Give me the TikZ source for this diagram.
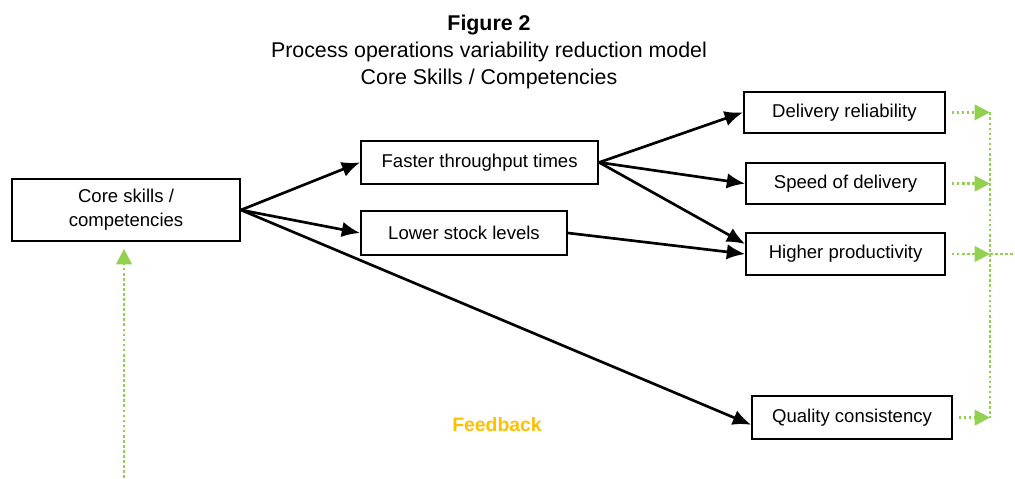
\documentclass[tikz,border=0pt]{standalone}
\usepackage{fontspec}
\setmainfont{Liberation Sans}
\usepackage{tikz}
\usetikzlibrary{arrows.meta,positioning,calc}
\definecolor{fbGreen}{RGB}{146,208,80}
\definecolor{fbGold}{RGB}{255,192,0}

\begin{document}
\begin{tikzpicture}[>={Latex[length=13pt,width=11pt]}, font=\fontsize{13.2}{17}\selectfont]
\tikzstyle{box}=[draw=black, line width=1.3pt, align=center, inner sep=0pt, minimum height=1.05cm]
\tikzstyle{lnk}=[->, line width=1.9pt]
\tikzstyle{fbline}=[fbGreen, line width=1.9pt, dash pattern=on 1.9pt off 1.7pt]
\tikzstyle{fb}=[fbline, -{Triangle[length=11pt,width=11pt]}]
\useasboundingbox (0,0) rectangle (25.375,11.95);
% title
\node[align=center, font=\fontsize{15.2}{19}\selectfont] (title) at (12.225,10.65) {\textbf{Figure 2}\\Process operations variability reduction model\\Core Skills / Competencies};
% boxes
\node[box, minimum width=5.7cm, minimum height=1.55cm] (core) at (3.15,6.7) {Core skills /\\competencies};
\node[box, minimum width=5.93cm, minimum height=1.08cm] (fast) at (11.99,7.89) {Faster throughput times};
\node[box, minimum width=5.15cm, minimum height=1.1cm] (low) at (11.6,6.125) {Lower stock levels};
\node[box, minimum width=5.03cm, minimum height=1.03cm] (del) at (21.11,9.14) {Delivery reliability};
\node[box, minimum width=4.98cm, minimum height=1.03cm] (spd) at (21.14,7.36) {Speed of delivery};
\node[box, minimum width=4.98cm] (hpr) at (21.14,5.6) {Higher productivity};
\node[box, minimum width=5.0cm, minimum height=1.08cm] (qual) at (21.3,1.51) {Quality consistency};
\node[font=\fontsize{13.8}{16}\selectfont\bfseries, text=fbGold] (fblab) at (12.425,1.325) {Feedback};
% links
\draw[lnk] (core.east) -- (fast.west);
\draw[lnk] (core.east) -- (low.west);
\draw[lnk] (core.east) -- ([yshift=-0.18cm]qual.west);
\draw[lnk] (fast.east) -- (del.west);
\draw[lnk] (fast.east) -- (spd.west);
\draw[lnk] (fast.east) -- ([yshift=0.25cm]hpr.west);
\draw[lnk] (low.east) -- (hpr.west);
% feedback loop
\coordinate (bus) at (24.75,0);
\coordinate (fbout) at (25.35,0);
\coordinate (fbin) at (3.1,0);
\foreach \b in {del,spd,hpr,qual}{\draw[fb] ([xshift=4pt]\b.east) -- (\b.east -| bus);}
\draw[fbline] (del.east -| bus) -- (qual.east -| bus);
\draw[fbline] (hpr.east -| bus) -- (hpr.east -| fbout);
\draw[fb] (fbin) -- ([yshift=-5pt]core.south -| fbin);
\end{tikzpicture}
\end{document}
